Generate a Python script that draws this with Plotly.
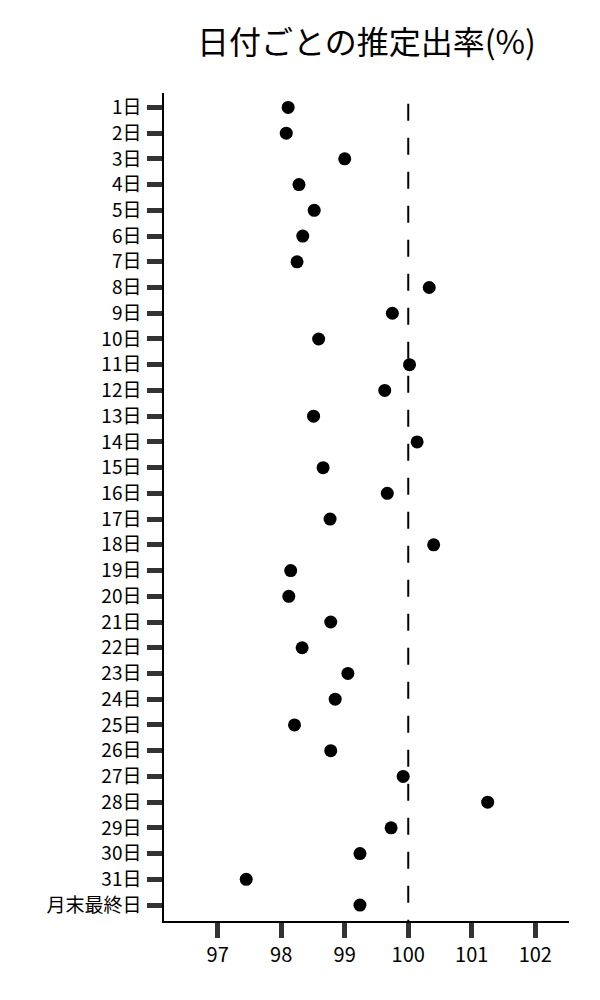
import plotly.graph_objects as go

# 日付ラベル
days = [f"{i}日" for i in range(1, 32)] + ["月末最終日"]

# 推定出率(%)
rates = [98.11, 98.08, 99.00, 98.28, 98.52, 98.34, 98.25, 100.33, 99.75, 98.59,
         100.02, 99.63, 98.51, 100.14, 98.66, 99.67, 98.77, 100.40, 98.15, 98.12,
         98.78, 98.33, 99.05, 98.85, 98.21, 98.78, 99.92, 101.25, 99.73, 99.24,
         97.45, 99.24]

ref_value = 100
x_ticks = [97, 98, 99, 100, 101, 102]

FONT = "Noto Sans CJK JP, Noto Sans, sans-serif"

fig = go.Figure()

fig.add_trace(go.Scatter(
    x=rates,
    y=days,
    mode="markers",
    marker=dict(color="black", size=13),
    showlegend=False,
))

# 基準線(100%) 上から破線を描く
fig.add_shape(
    type="line", xref="x", yref="paper",
    x0=ref_value, x1=ref_value, y0=0.987, y1=0,
    line=dict(color="black", width=2, dash="17px,17px"),
)

fig.update_layout(
    width=600, height=1000,
    title=dict(text="日付ごとの推定出率(%)", x=0.5, xref="paper",
               yref="container", y=0.965,
               xanchor="center", yanchor="middle",
               font=dict(family=FONT, size=32, color="black")),
    font=dict(family=FONT, size=19, color="black"),
    plot_bgcolor="white", paper_bgcolor="white",
    margin=dict(l=156, r=39, t=85, b=87),
)

fig.update_xaxes(
    range=[96.156, 102.53],
    tickvals=x_ticks,
    ticks="outside", ticklen=15, tickwidth=4.5, tickcolor="#333333",
    showline=True, linecolor="black", linewidth=1.5,
    showgrid=False, zeroline=False,
    tickfont=dict(size=20),
)

fig.update_yaxes(
    type="category",
    categoryorder="array", categoryarray=days,
    range=[31.62, -0.56],
    ticks="outside", ticklen=15, tickwidth=4.5, tickcolor="#333333",
    showline=True, linecolor="black", linewidth=1.5,
    showgrid=False, zeroline=False,
    ticklabelstandoff=2,
    tickfont=dict(size=19),
)

fig.write_html("out.html")
